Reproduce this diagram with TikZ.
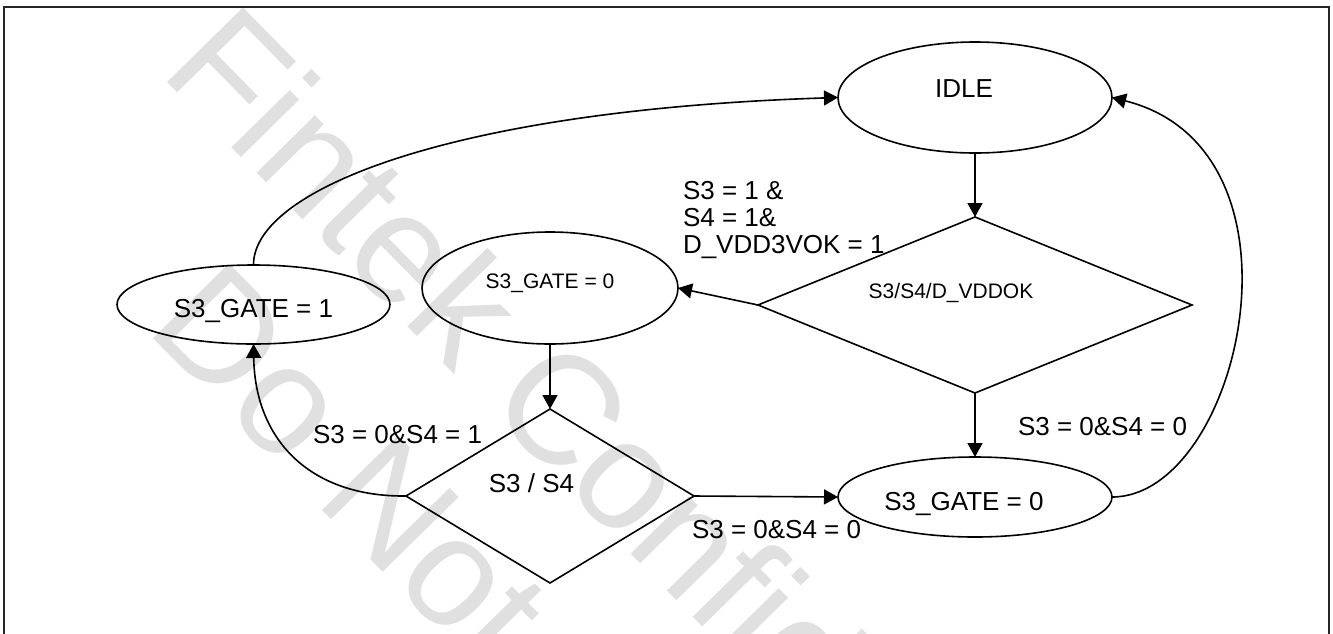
\documentclass[tikz,border=0pt]{standalone}
\usepackage{fontspec}
\setmainfont{Liberation Sans}
\usetikzlibrary{shapes.geometric,arrows.meta}
\begin{document}
\begin{tikzpicture}[x=0.5pt,y=-0.5pt,
  every node/.style={inner sep=0pt,outer sep=0pt},
  big/.style={font=\fontsize{13}{13.5}\selectfont},
  small/.style={font=\fontsize{10.5}{12}\selectfont},
  state/.style={draw,ellipse,line width=0.8pt},
  decide/.style={draw,diamond,line width=0.8pt},
  conn/.style={line width=0.8pt,-{Triangle[length=7pt,width=7.5pt]}},
  wm/.style={font=\fontsize{77.5}{80}\selectfont,text=black!12,rotate=-45.5,anchor=base west}]
\useasboundingbox (0,0) rectangle (1333,633);
\clip (0,0) rectangle (1333,633);
% watermark
\node[wm] (wm1) at (158.6,73.4) {Fintek Confidential};
\node[wm] (wm2) at (144.6,329.4) {Do Not};
% frame
\draw[line width=0.9pt,black!85] (4,7) rectangle (1329,700);
% states
\node[state,minimum width=137pt,minimum height=55.5pt,
  label={[big,xshift=-5.5pt,yshift=4.25pt]center:IDLE}] (idle) at (975,97.5) {};
\node[decide,minimum width=217pt,minimum height=88pt,
  label={[small,xshift=-12pt,yshift=6pt]center:S3/S4/D\_VDDOK}] (d1) at (975,305) {};
\node[state,minimum width=128pt,minimum height=56pt,
  label={[small,yshift=2.25pt]center:S3\_GATE = 0}] (mid) at (550,288) {};
\node[state,minimum width=136.5pt,minimum height=39.5pt,
  label={[big,yshift=-3.1pt]center:S3\_GATE = 1}] (g1) at (253.5,304.5) {};
\node[decide,minimum width=144pt,minimum height=87pt,
  label={[big,xshift=-9.25pt,yshift=6.5pt]center:S3 / S4}] (d2) at (550,496) {};
\node[state,minimum width=137pt,minimum height=40pt,
  label={[big,xshift=-5.5pt,yshift=-3.4pt]center:S3\_GATE = 0}] (low) at (975,497) {};
% edge labels
\node[big,anchor=north west,align=left] (l1) at (683,181) {S3 = 1 \&\\S4 = 1\&\\D\_VDD3VOK = 1};
\node[big,anchor=west] (l2) at (313,435) {S3 = 0\&S4 = 1};
\node[big,anchor=west] (l3) at (692,530) {S3 = 0\&S4 = 0};
\node[big,anchor=west] (l4) at (1018,427) {S3 = 0\&S4 = 0};
% connectors
\draw[conn] (idle.south) -- (d1.north);
\draw[conn] (d1.west) -- (mid.east);
\draw[conn] (mid.south) -- (d2.north);
\draw[conn] (d2.east) -- (low.west);
\draw[conn] (d1.south) -- (low.north);
\draw[conn] (g1.north) .. controls (253,190) and (450,110) .. (idle.west);
\draw[conn] (d2.west) .. controls (310,497) and (255,440) .. (g1.south);
\draw[conn] (low.east) .. controls (1240,497) and (1320,150) .. (idle.east);
\end{tikzpicture}
\end{document}
